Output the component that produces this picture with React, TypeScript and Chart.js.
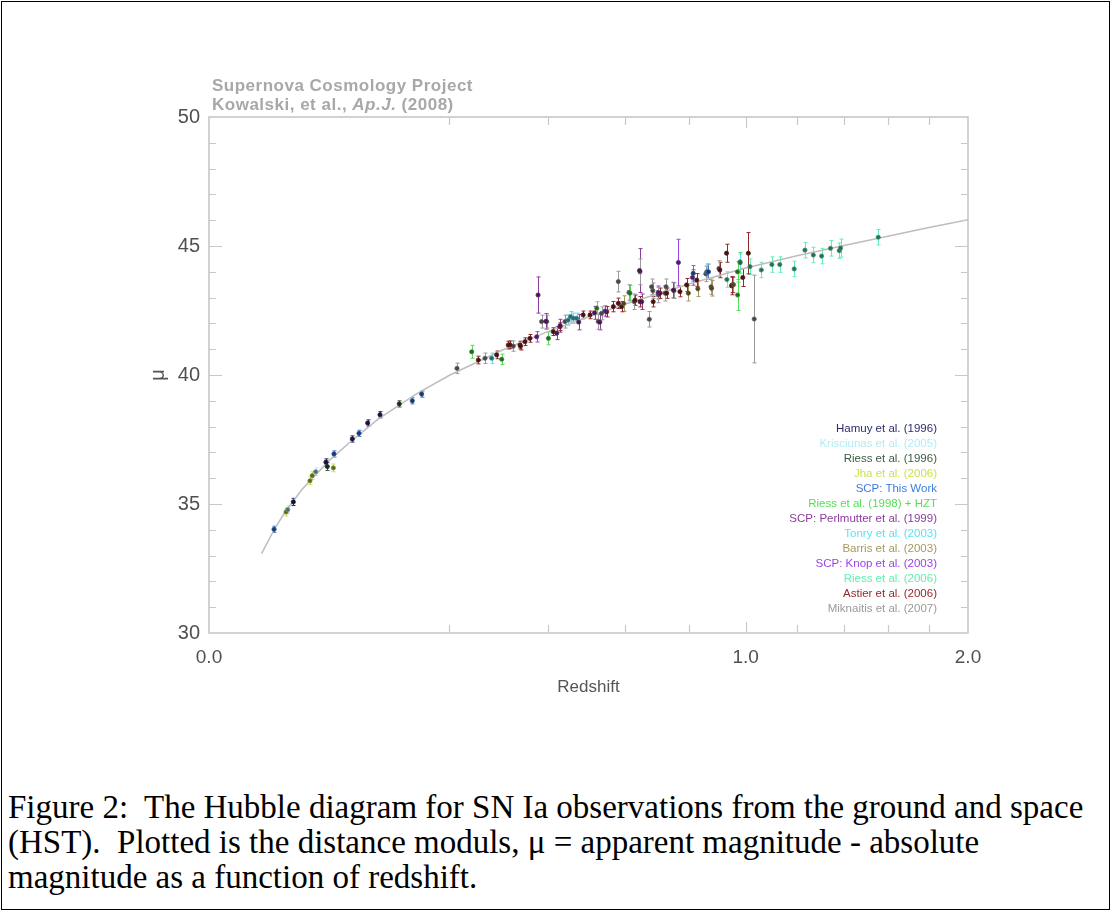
import React, { useEffect, useRef } from "react";
import { Chart, LinearScale, registerables } from "chart.js";

Chart.register(...registerables);

// x axis is drawn on a square-root scale of redshift
class SqrtScale extends LinearScale {
  static id = "sqrt";
  static defaults = LinearScale.defaults;
  getPixelForValue(value: number) {
    const s = Math.sqrt(Math.max(0, this.min));
    const e = Math.sqrt(this.max);
    return this.getPixelForDecimal((Math.sqrt(Math.max(0, value)) - s) / (e - s));
  }
  getValueForPixel(pixel: number) {
    const s = Math.sqrt(Math.max(0, this.min));
    const e = Math.sqrt(this.max);
    const r = s + this.getDecimalForPixel(pixel) * (e - s);
    return r * r;
  }
}
Chart.register(SqrtScale as any);

// ---------- data ----------
const xLabelValues = [0, 1, 2];
const xLabelTexts = ["0.0", "1.0", "2.0"];
const xTickMarks = [0.2, 0.4, 0.6, 0.8, 1.0, 1.2, 1.4, 1.6, 1.8];
const yLabelValues = [30, 35, 40, 45, 50];
const yTickMarks = [31, 32, 33, 34, 35, 36, 37, 38, 39, 40, 41, 42, 43, 44, 45, 46, 47, 48, 49];

// model curve: [z, mu]
const modelCurve = [
  [0.0096, 33.08], [0.015, 34.05], [0.02, 34.68], [0.03, 35.56], [0.05, 36.68],
  [0.07, 37.43], [0.1, 38.31], [0.15, 39.28], [0.2, 39.98], [0.3, 40.98],
  [0.4, 41.69], [0.5, 42.26], [0.6, 42.74], [0.7, 43.15], [0.8, 43.53],
  [0.9, 43.85], [1.0, 44.15], [1.2, 44.62], [1.4, 45.02], [1.6, 45.38],
  [1.8, 45.72], [2.0, 46.02],
];

// supernovae: [z, mu, error]
const hamuy = [
  [0.0247, 35.08, 0.14], [0.0475, 36.62, 0.13], [0.0713, 37.52, 0.12],
  [0.0874, 38.14, 0.12], [0.1015, 38.46, 0.12],
];
const krisciunas = [[0.0395, 36.25, 0.15], [0.0215, 34.78, 0.15]];
const riess96 = [[0.0486, 36.45, 0.15], [0.1257, 38.88, 0.12]];
const jha = [[0.0206, 34.69, 0.15], [0.0354, 35.9, 0.15], [0.037, 36.1, 0.15], [0.0537, 36.4, 0.15]];
const scpThisWork = [
  [0.0147, 34.02, 0.12], [0.0542, 36.94, 0.12], [0.0781, 37.74, 0.12],
  [0.1435, 39.0, 0.12], [0.157, 39.26, 0.12], [0.866, 44.0, 0.3], [0.814, 43.94, 0.3],
];
const riess98 = [
  [0.2396, 40.9, 0.25], [0.2975, 40.61, 0.2], [0.4, 41.42, 0.25], [0.522, 42.59, 0.25],
  [0.615, 43.17, 0.3], [0.97, 43.1, 0.6], [0.9697, 44.0, 0.4], [0.9793, 44.35, 0.4],
];
const perlmutter = [
  [0.3759, 43.1, 0.7], [0.394, 42.08, 0.3], [0.4197, 41.62, 0.25], [0.4282, 41.91, 0.25],
  [0.4746, 42.05, 0.3], [0.516, 42.41, 0.25], [0.5303, 42.05, 0.3], [0.65, 42.84, 0.3],
  [0.749, 43.29, 0.3], [0.6436, 44.05, 0.85],
];
const tonry = [
  [0.2774, 40.65, 0.2], [0.4477, 42.13, 0.2], [0.454, 42.26, 0.2], [0.461, 42.2, 0.2],
  [0.469, 42.2, 0.2], [0.86, 44.0, 0.3], [0.979, 44.39, 0.3],
];
const barris = [[0.5969, 42.77, 0.3], [0.7977, 43.17, 0.3], [0.8296, 43.34, 0.3], [0.877, 43.36, 0.3], [0.955, 43.5, 0.3]];
const knop = [[0.3728, 41.48, 0.2], [0.5447, 42.48, 0.2], [0.7003, 43.2, 0.25], [0.765, 44.36, 0.9], [0.8116, 43.78, 0.3]];
const riess06 = [
  [0.9312, 43.7, 0.3], [1.016, 44.2, 0.3], [1.059, 44.07, 0.3],
  [1.1, 44.28, 0.3], [1.131, 44.28, 0.3], [1.189, 44.11, 0.3], [1.233, 44.84, 0.3],
  [1.268, 44.65, 0.3], [1.303, 44.61, 0.3], [1.341, 44.91, 0.3], [1.379, 44.82, 0.3],
  [1.385, 44.92, 0.35], [1.555, 45.34, 0.3],
];
const astier = [
  [0.2518, 40.58, 0.15], [0.2873, 40.78, 0.15], [0.311, 41.16, 0.15], [0.3144, 41.17, 0.15],
  [0.3358, 41.16, 0.15], [0.3369, 41.12, 0.15], [0.3467, 41.29, 0.15], [0.3577, 41.42, 0.15],
  [0.4115, 41.68, 0.15], [0.4277, 41.87, 0.15], [0.486, 42.33, 0.15], [0.504, 42.33, 0.15],
  [0.549, 42.45, 0.2], [0.5676, 42.65, 0.2], [0.5817, 42.78, 0.2], [0.591, 42.65, 0.2],
  [0.63, 42.9, 0.2], [0.645, 42.84, 0.2], [0.685, 42.84, 0.2], [0.706, 43.17, 0.2],
  [0.727, 43.17, 0.2], [0.77, 43.23, 0.2], [0.792, 43.49, 0.25], [0.826, 43.68, 0.25],
  [0.906, 44.07, 0.3], [0.93, 44.72, 0.35], [0.948, 43.46, 0.35], [0.9505, 43.49, 0.3],
  [0.9892, 43.78, 0.35], [1.01, 44.72, 0.8],
];
const miknaitis = [
  [0.2135, 40.26, 0.2], [0.2645, 40.65, 0.2], [0.3215, 41.12, 0.2], [0.384, 42.07, 0.25],
  [0.396, 42.07, 0.25], [0.44, 42.07, 0.25], [0.526, 42.07, 0.3], [0.535, 42.39, 0.25],
  [0.5817, 43.62, 0.4], [0.6123, 43.2, 0.3], [0.6279, 42.84, 0.3], [0.645, 44.0, 0.5],
  [0.673, 42.16, 0.3], [0.68, 43.42, 0.3], [0.6838, 43.27, 0.3], [0.701, 43.1, 0.3],
  [0.722, 43.17, 0.3], [0.7252, 43.42, 0.3], [0.7506, 43.27, 0.3], [0.8567, 43.92, 0.3],
  [0.875, 43.42, 0.3], [0.9029, 44.13, 0.3], [1.032, 42.17, 1.7],
];

const seriesLabels = [
  "Hamuy et al. (1996)", "Krisciunas et al. (2005)", "Riess et al. (1996)", "Jha et al. (2006)",
  "SCP: This Work", "Riess et al. (1998) + HZT", "SCP: Perlmutter et al. (1999)", "Tonry et al. (2003)",
  "Barris et al. (2003)", "SCP: Knop et al. (2003)", "Riess et al. (2006)", "Astier et al. (2006)",
  "Miknaitis et al. (2007)",
];
const seriesData = [
  hamuy, krisciunas, riess96, jha, scpThisWork, riess98, perlmutter, tonry,
  barris, knop, riess06, astier, miknaitis,
];
const seriesColors = [
  "#2c2c6e", "#b2ecf4", "#3c5c40", "#c6e844", "#3c7ce0", "#54e054", "#8c3c9c", "#5ee0f6",
  "#a8985c", "#9a44e6", "#5ef0b4", "#922a2a", "#9a9a9a",
];

const titleLine1 = "Supernova Cosmology Project";
const captionLines = [
  "Figure 2:  The Hubble diagram for SN Ia observations from the ground and space",
  "(HST).  Plotted is the distance moduls, \u03bc = apparent magnitude - absolute",
  "magnitude as a function of redshift.",
];

// darker shade of a colour for the marker body
function shade(hex: string, f: number) {
  const n = parseInt(hex.slice(1), 16);
  const r = Math.round(((n >> 16) & 255) * f);
  const g = Math.round(((n >> 8) & 255) * f);
  const b = Math.round((n & 255) * f);
  return `rgb(${r},${g},${b})`;
}

// ---------- plugins ----------
const errorBarPlugin = {
  id: "errorBars",
  beforeDatasetsDraw(chart: any) {
    const { ctx } = chart;
    const xs = chart.scales.x;
    const ys = chart.scales.y;
    ctx.save();
    ctx.lineWidth = 1;
    chart.data.datasets.forEach((ds: any) => {
      if (!ds.errors) return;
      ctx.strokeStyle = ds.errColor;
      ds.data.forEach((p: any, j: number) => {
        const px = Math.round(xs.getPixelForValue(p.x)) + 0.5;
        const y1 = ys.getPixelForValue(p.y - ds.errors[j]);
        const y2 = ys.getPixelForValue(p.y + ds.errors[j]);
        ctx.beginPath();
        ctx.moveTo(px, y1);
        ctx.lineTo(px, y2);
        ctx.moveTo(px - 2, y1);
        ctx.lineTo(px + 2, y1);
        ctx.moveTo(px - 2, y2);
        ctx.lineTo(px + 2, y2);
        ctx.stroke();
      });
    });
    ctx.restore();
  },
};

const framePlugin = {
  id: "frame",
  afterDraw(chart: any) {
    const { ctx, chartArea } = chart;
    const { left, right, top, bottom } = chartArea;
    const xs = chart.scales.x;
    const ys = chart.scales.y;
    ctx.save();
    ctx.strokeStyle = "#c4c4c4";
    ctx.lineWidth = 1.5;
    ctx.strokeRect(left, top, right - left, bottom - top);
    ctx.lineWidth = 1.2;
    ctx.strokeStyle = "#c8c8c8";
    ctx.beginPath();
    xTickMarks.forEach((v) => {
      const px = Math.round(xs.getPixelForValue(v)) + 0.5;
      const len = v === 1 ? 11 : 8;
      ctx.moveTo(px, bottom);
      ctx.lineTo(px, bottom - len);
      ctx.moveTo(px, top);
      ctx.lineTo(px, top + len);
    });
    yTickMarks.forEach((v) => {
      const py = Math.round(ys.getPixelForValue(v)) + 0.5;
      const len = v % 5 === 0 ? 13 : 7;
      ctx.moveTo(left, py);
      ctx.lineTo(left + len, py);
      ctx.moveTo(right, py);
      ctx.lineTo(right - len, py);
    });
    ctx.stroke();
    ctx.restore();
  },
};

export default function App() {
  const canvasRef = useRef<HTMLCanvasElement | null>(null);

  useEffect(() => {
    const canvas = canvasRef.current;
    if (!canvas) return;
    const datasets: any[] = [
      {
        label: "model",
        data: modelCurve.map(([z, mu]) => ({ x: z, y: mu })),
        showLine: true,
        borderColor: "#bdbdbd",
        borderWidth: 1.5,
        pointRadius: 0,
        order: 2,
      },
    ];
    seriesData.forEach((arr, i) => {
      datasets.push({
        label: seriesLabels[i],
        data: arr.map(([z, mu]) => ({ x: z, y: mu })),
        errors: arr.map((r) => r[2]),
        errColor: seriesColors[i],
        pointRadius: 2.1,
        pointBackgroundColor: shade(seriesColors[i], 0.45),
        pointBorderColor: shade(seriesColors[i], 0.6),
        pointBorderWidth: 0.8,
        order: 1,
      });
    });

    const chart = new Chart(canvas, {
      type: "scatter",
      data: { datasets },
      options: {
        animation: false,
        responsive: false,
        events: [],
        layout: { padding: { left: 146, right: 144, top: 117, bottom: 22 } },
        plugins: { legend: { display: false }, tooltip: { enabled: false } },
        scales: {
          x: {
            type: "sqrt" as any,
            min: 0,
            max: 2,
            afterBuildTicks: (s: any) => {
              s.ticks = xLabelValues.map((v) => ({ value: v }));
            },
            afterFit: (s: any) => {
              s.height = 65;
            },
            grid: { display: false, drawTicks: false },
            border: { display: false },
            ticks: {
              autoSkip: false,
              maxRotation: 0,
              padding: 13,
              color: "#505050",
              font: { family: "Liberation Sans", size: 19 },
              callback: (v: any) => {
                const k = xLabelValues.indexOf(Number(v));
                return k >= 0 ? xLabelTexts[k] : "";
              },
            },
            title: {
              display: true,
              text: "Redshift",
              color: "#555555",
              font: { family: "Liberation Sans", size: 17 },
              padding: { top: 0, bottom: 0 },
            },
          },
          y: {
            min: 30,
            max: 50,
            afterBuildTicks: (s: any) => {
              s.ticks = yLabelValues.map((v) => ({ value: v }));
            },
            afterFit: (s: any) => {
              s.width = 63;
            },
            grid: { display: false, drawTicks: false },
            border: { display: false },
            ticks: {
              padding: 9,
              color: "#505050",
              font: { family: "Liberation Sans", size: 20 },
              callback: (v: any) => String(v),
            },
            title: {
              display: true,
              text: "\u03bc",
              color: "#555555",
              font: { family: "Liberation Sans", size: 20 },
              padding: { top: 0, bottom: 0 },
            },
          },
        },
      } as any,
      plugins: [errorBarPlugin, framePlugin],
    });
    return () => chart.destroy();
  }, []);

  return (
    <div style={{ position: "absolute", left: 0, top: 0, width: 1112, height: 911, background: "#fff", overflow: "hidden" }}>
      <div
        style={{
          position: "absolute", left: 1, top: 1, width: 1109, height: 909,
          border: "1px solid #000", boxSizing: "border-box",
        }}
      />
      <canvas ref={canvasRef} width={1112} height={720} style={{ position: "absolute", left: 0, top: 0 }} />
      <div
        style={{
          position: "absolute", left: 212, top: 76, fontFamily: "'Liberation Sans', Arial, sans-serif",
          fontWeight: "bold", fontSize: 17, lineHeight: "19px", color: "#a8a8a8", letterSpacing: 0.5,
          whiteSpace: "nowrap",
        }}
      >
        <div>{titleLine1}</div>
        <div>
          Kowalski, et al., <i>Ap.J.</i> (2008)
        </div>
      </div>
      <div
        style={{
          position: "absolute", left: 700, width: 237, top: 421, textAlign: "right",
          fontFamily: "'Liberation Sans', Arial, sans-serif", fontSize: 11.5, lineHeight: "15px",
          whiteSpace: "nowrap",
        }}
      >
        {seriesLabels.map((t, i) => (
          <div key={t} style={{ color: seriesColors[i] }}>{t}</div>
        ))}
      </div>
      <div
        style={{
          position: "absolute", left: 8, top: 790, fontFamily: "'Liberation Serif', 'Times New Roman', serif",
          fontSize: 33, lineHeight: "35px", color: "#000", whiteSpace: "pre",
        }}
      >
        {captionLines.map((t) => (
          <div key={t}>{t}</div>
        ))}
      </div>
    </div>
  );
}
